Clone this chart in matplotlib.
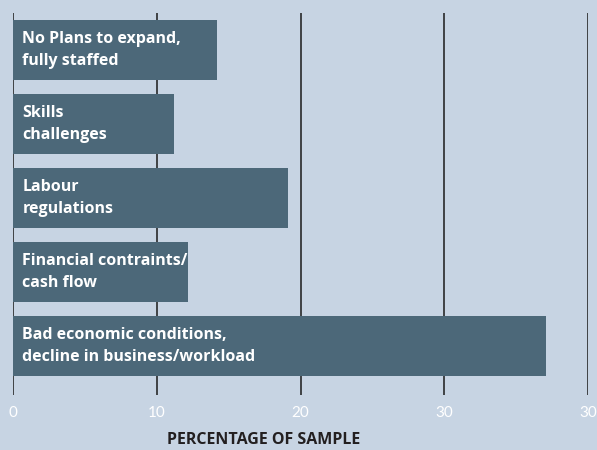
import matplotlib
matplotlib.use("Agg")
import matplotlib.pyplot as plt

# === Dati ===
categories = [
    "No Plans to expand,\nfully staffed",
    "Skills\nchallenges",
    "Labour\nregulations",
    "Financial contraints/\ncash flow",
    "Bad economic conditions,\ndecline in business/workload",
]
values = [14.2, 11.2, 19.1, 12.2, 37.1]
tick_pos = [0, 10, 20, 30, 40]
tick_labels = ["0", "10", "20", "30", "30"]

bg = "#c7d4e3"
bar_col = "#4c6879"

plt.rcParams['font.family'] = ['Open Sans', 'DejaVu Sans']

fig = plt.figure(figsize=(5.97, 4.5), dpi=100, facecolor=bg)
ax = fig.add_axes([13/597, 55/450, 575/597, 382/450], facecolor=bg)

# linee verticali della griglia
for t in tick_pos:
    ax.axvline(t, color="#1a1a1a", lw=1.1, zorder=1)

y = list(range(len(categories)))
ax.barh(y, values, height=0.82, color=bar_col, zorder=2)

for i, lab in enumerate(categories):
    ax.text(0.65, i, lab, color="white", fontweight="bold", fontsize=11.5,
            va="center", ha="left", linespacing=1.45, zorder=3)

ax.set_xlim(0, 40)
ax.set_ylim(4.66, -0.5)
ax.set_yticks([])
ax.set_xticks(tick_pos)
ax.set_xticklabels(tick_labels, color="white", fontsize=11, fontfamily="Lato")
ax.tick_params(axis="x", length=0, pad=8)
for s in ax.spines.values():
    s.set_visible(False)

fig.text(264/597, 1 - 440/450, "PERCENTAGE OF SAMPLE", ha="center", va="center",
         fontsize=11.5, fontweight="bold", color="#231f20")

fig.savefig("out.png", dpi=100, facecolor=bg)
